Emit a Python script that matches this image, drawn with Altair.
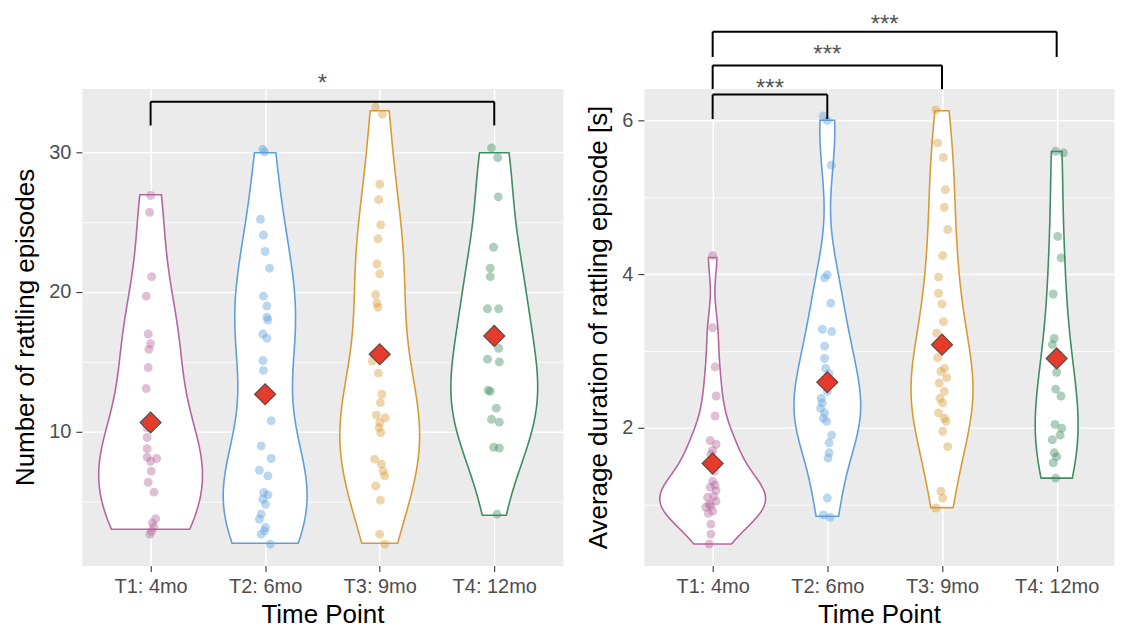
import json
import altair as alt
import pandas as pd

FONT = "Liberation Sans"
groups = ["T1: 4mo", "T2: 6mo", "T3: 9mo", "T4: 12mo"]
colors = ["#B5669C", "#5E9FDB", "#D99A36", "#3E8C62"]

# ---------- left panel: number of rattling episodes ----------
left_t1 = [26.9, 25.7, 21.1, 19.7, 17.0, 16.3, 15.9, 14.6, 13.1, 10.3, 9.6, 8.8, 8.2, 8.1, 7.9, 7.2, 6.4, 5.7, 3.8, 3.5, 3.2, 2.9, 2.7]
left_t1_jit = [0, -0.009, 0.009, -0.038, -0.021, 0, -0.015, -0.021, -0.038, -0.03, -0.03, -0.03, -0.03, 0.053, 0, 0.006, -0.021, 0.03, 0.044, 0.015, 0.03, 0.009, -0.006]
left_t2 = [30.2, 30.0, 25.2, 24.07, 22.9, 21.7, 19.7, 19.0, 18.2, 18.0, 17.0, 16.7, 15.1, 14.4, 10.8, 9.0, 8.1, 7.26, 6.86, 5.67, 5.5, 5.19, 4.83, 4.12, 3.76, 3.17, 2.93, 2.69, 1.98]
left_t2_jit = [-0.02, -0.006, -0.041, -0.015, 0, 0.038, -0.015, 0.015, 0.015, 0.024, -0.02, 0.015, -0.02, -0.015, 0.053, -0.035, 0.053, -0.05, 0.024, -0.012, 0.024, -0.02, 0.003, -0.035, -0.05, 0.003, -0.006, -0.035, 0.044]
left_t3 = [33.2, 32.7, 27.7, 26.6, 24.8, 23.8, 22.0, 21.3, 19.8, 19.2, 18.9, 15.07, 14.2, 12.7, 12.1, 11.2, 11.0, 10.67, 10.3, 9.95, 8.05, 7.7, 7.2, 6.86, 6.14, 5.12, 2.69, 1.98]
left_t3_jit = [-0.035, 0.024, 0, -0.009, 0.009, -0.015, -0.024, 0, -0.035, -0.024, -0.015, -0.065, -0.012, 0.018, 0.006, -0.03, 0.047, 0, -0.006, 0.009, -0.044, 0.015, 0.03, 0.044, -0.035, 0.006, 0, 0.044]
left_t4 = [30.3, 29.6, 26.8, 23.2, 21.7, 21.1, 18.8, 18.8, 15.98, 15.2, 15.0, 12.98, 12.9, 11.7, 10.9, 10.7, 8.9, 8.85, 4.12]
left_t4_jit = [-0.024, 0.03, 0.035, -0.006, -0.035, -0.035, -0.059, 0.038, 0.038, -0.059, 0.044, -0.053, -0.035, 0.018, -0.024, 0.044, -0.006, 0.044, 0.024]
left_means = [10.67, 12.69, 15.55, 16.86]
# violin trim range and widest half-width (category units)
left_violin_min = [3.0, 2.0, 2.0, 4.0]
left_violin_max = [27.0, 30.0, 33.0, 30.0]
left_half_width = [0.453, 0.366, 0.348, 0.379]

left_br_x1 = [1]
left_br_x2 = [4]
left_br_y = [33.6]
left_br_tip = [31.9]
left_br_label = ["*"]
left_br_label_y = [34.4]

# ---------- right panel: average duration of rattling episode ----------
right_t1 = [4.24, 3.30, 2.79, 2.41, 2.15, 1.83, 1.78, 1.70, 1.65, 1.43, 1.30, 1.25, 1.22, 1.18, 1.10, 1.09, 1.04, 1.0, 0.98, 0.96, 0.91, 0.88, 0.74, 0.61, 0.48]
right_t1_jit = [0, 0, 0.021, 0.03, 0.021, -0.021, 0.03, 0, -0.015, 0.015, 0, 0.021, -0.021, 0.03, 0.009, -0.044, 0.03, -0.03, -0.015, -0.059, 0, -0.038, -0.015, -0.015, -0.03]
right_t2 = [6.06, 6.0, 5.42, 3.99, 3.95, 3.62, 3.28, 3.25, 3.06, 2.90, 2.77, 2.70, 2.47, 2.38, 2.32, 2.25, 2.19, 2.12, 2.08, 1.90, 1.80, 1.67, 1.60, 1.08, 0.86, 0.83]
right_t2_jit = [-0.035, 0, 0.035, 0, -0.024, 0.03, -0.044, 0.038, -0.024, -0.024, -0.015, 0.015, 0, -0.053, -0.044, -0.059, -0.024, -0.035, -0.006, 0.038, 0.015, 0.015, 0.006, 0, -0.035, 0.024]
right_t3 = [6.14, 5.71, 5.52, 5.10, 4.87, 4.58, 4.24, 3.96, 3.75, 3.61, 3.38, 3.23, 2.91, 2.77, 2.73, 2.65, 2.58, 2.47, 2.38, 2.32, 2.19, 2.12, 2.08, 1.95, 1.75, 1.17, 1.08, 0.95]
right_t3_jit = [-0.053, -0.038, 0.012, 0.03, 0.021, 0.05, 0.006, -0.03, -0.03, 0, 0.012, -0.047, -0.038, 0.021, -0.009, 0.041, -0.024, 0.021, -0.018, 0.006, -0.03, 0.021, 0.035, 0.006, 0.05, -0.009, 0.006, -0.053]
right_t4 = [5.60, 5.58, 4.49, 4.21, 3.74, 3.16, 3.08, 2.72, 2.50, 2.41, 2.04, 1.99, 1.90, 1.84, 1.67, 1.62, 1.54, 1.34]
right_t4_jit = [-0.009, 0.059, 0.009, 0.038, -0.03, -0.021, -0.038, 0, -0.009, 0.038, -0.015, 0.044, 0.03, -0.038, -0.021, 0, -0.03, -0.009]
right_means = [1.53, 2.59, 3.08, 2.90]
right_violin_min = [0.48, 0.84, 0.95, 1.34]
right_violin_max = [4.22, 6.01, 6.13, 5.60]
right_half_width = [0.461, 0.291, 0.270, 0.187]

right_br_x1 = [1, 1, 1]
right_br_x2 = [2, 3, 4]
right_br_y = [6.34, 6.72, 7.16]
right_br_tip = [6.02, 6.41, 6.83]
right_br_label = ["***", "***", "***"]
right_br_label_y = [6.32, 6.77, 7.16]


def points_frame(vals, jits):
    rows = []
    for i, (v, j) in enumerate(zip(vals, jits)):
        for value, jit in zip(v, j):
            rows.append({"group": groups[i], "pos": i + 1, "value": value, "jit": jit})
    return pd.DataFrame(rows)


def bracket_frames(x1s, x2s, ys, tips, labels, label_ys):
    segs = []
    for a, b, y, t in zip(x1s, x2s, ys, tips):
        segs.append({"x": a, "x2": b, "y": y, "y2": y})
        segs.append({"x": a, "x2": a, "y": t, "y2": y})
        segs.append({"x": b, "x2": b, "y": t, "y2": y})
    labs = pd.DataFrame({"x": [(a + b) / 2 for a, b in zip(x1s, x2s)],
                         "y": label_ys, "text": labels})
    return pd.DataFrame(segs), labs


color_scale = alt.Scale(domain=groups, range=colors)
label_expr = json.dumps(groups) + "[datum.value - 1]"


def panel(pts, means, vmin, vmax, half_width, brk, ydomain, yticks, major_mod, ytitle,
          xdomain, width):
    segs, labs = brk
    xscale = alt.Scale(domain=xdomain, nice=False, zero=False)
    yscale = alt.Scale(domain=ydomain, nice=False, zero=False)
    xaxis = alt.Axis(values=[1, 2, 3, 4], labelExpr=label_expr, gridWidth=1.5,
                     titlePadding=5)
    cond = f"datum.value % {major_mod} === 0"
    yaxis = alt.Axis(values=yticks,
                     labelExpr=f"{cond} ? datum.label : ''",
                     gridWidth={"condition": {"test": cond, "value": 1.5}, "value": 0.75},
                     tickOpacity={"condition": {"test": cond, "value": 1}, "value": 0},
                     titlePadding=10)
    X = lambda f: alt.X(f, type="quantitative", scale=xscale, axis=xaxis, title="Time Point")
    Y = lambda f: alt.Y(f, type="quantitative", scale=yscale, axis=yaxis, title=ytitle)

    # trimmed violins: density per group, cut to each violin's own range
    rng = pd.DataFrame({"group": groups, "vmin": vmin, "vmax": vmax, "halfw": half_width})
    vdf = pd.concat([pts, pts], ignore_index=True)  # doubled: Scott bw * 2^-0.2 ~ R nrd0
    violin = alt.Chart(vdf).transform_density(
        "value", groupby=["group", "pos"], as_=["value", "density"], steps=500
    ).transform_lookup(
        lookup="group",
        from_=alt.LookupData(data=rng, key="group", fields=["vmin", "vmax", "halfw"]),
    ).transform_filter(
        "datum.value >= datum.vmin && datum.value <= datum.vmax"
    ).transform_joinaggregate(dmax="max(density)", groupby=["group"]).transform_calculate(
        xl="datum.pos - datum.halfw * datum.density / datum.dmax",
        xr="datum.pos + datum.halfw * datum.density / datum.dmax",
    ).mark_area(orient="horizontal", fill="white", fillOpacity=1, strokeWidth=1.6).encode(
        y=Y("value"), x=X("xl"), x2="xr:Q",
        stroke=alt.Stroke("group:N", scale=color_scale, legend=None),
        detail="group:N",
    )

    dots = alt.Chart(pts).transform_calculate(xj="datum.pos + datum.jit").mark_circle(
        size=80, opacity=0.42
    ).encode(
        x=X("xj"), y=Y("value"),
        color=alt.Color("group:N", scale=color_scale, legend=None),
    )

    mdf = pd.DataFrame({"pos": [1, 2, 3, 4], "mean": means})
    mean_pts = alt.Chart(mdf).mark_point(
        shape="diamond", filled=True, fill="#E63A2A", stroke="#5b4a48",
        strokeWidth=1.2, size=440, opacity=1
    ).encode(x=X("pos"), y=Y("mean"))

    rules = alt.Chart(segs).mark_rule(color="black", strokeWidth=2).encode(
        x=X("x"), x2="x2:Q", y=Y("y"), y2="y2:Q")
    stars = alt.Chart(labs).mark_text(
        font=FONT, fontSize=24, color="#555555", baseline="alphabetic", align="center"
    ).encode(x=X("x"), y=Y("y"), text="text:N")

    return alt.layer(violin, dots, mean_pts, rules, stars).properties(width=width, height=478)


left = panel(
    points_frame([left_t1, left_t2, left_t3, left_t4],
                 [left_t1_jit, left_t2_jit, left_t3_jit, left_t4_jit]),
    left_means, left_violin_min, left_violin_max, left_half_width,
    bracket_frames(left_br_x1, left_br_x2, left_br_y, left_br_tip, left_br_label, left_br_label_y),
    [0.45, 34.55], [5, 10, 15, 20, 25, 30], 10, "Number of rattling episodes",
    [0.4, 4.6], 482,
)
right = panel(
    points_frame([right_t1, right_t2, right_t3, right_t4],
                 [right_t1_jit, right_t2_jit, right_t3_jit, right_t4_jit]),
    right_means, right_violin_min, right_violin_max, right_half_width,
    bracket_frames(right_br_x1, right_br_x2, right_br_y, right_br_tip, right_br_label, right_br_label_y),
    [0.2, 6.42], [1, 2, 3, 4, 5, 6], 2, "Average duration of rattling episode [s]",
    [0.4, 4.5], 471,
)

chart = alt.hconcat(left, right, spacing=81, bounds="flush").properties(
    padding={"left": 4, "top": 3, "right": 0, "bottom": 0}
).configure(background="white").configure_view(
    fill="#EBEBEB", stroke="transparent"
).configure_axis(
    domain=False, tickColor="#333333", tickWidth=1.1, tickSize=6,
    labelColor="#4D4D4D", labelFontSize=20, labelFont=FONT, labelPadding=5,
    titleFont=FONT, titleFontSize=26, titleFontWeight="normal", titleColor="black",
    gridColor="white", gridOpacity=1,
)

chart.save("out.html", embed_options={"renderer": "svg", "actions": False})
